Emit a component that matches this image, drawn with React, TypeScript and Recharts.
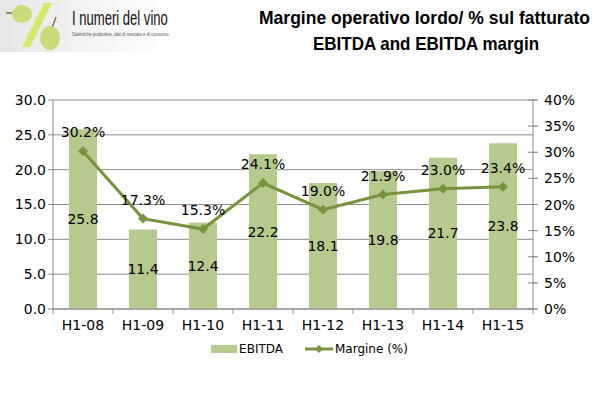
import React, { useLayoutEffect, useRef, useState } from 'react';
import {
  ComposedChart,
  Bar,
  Line,
  XAxis,
  YAxis,
  CartesianGrid,
  Legend,
  LabelList
} from 'recharts';

const periods = ['H1-08', 'H1-09', 'H1-10', 'H1-11', 'H1-12', 'H1-13', 'H1-14', 'H1-15'];
const ebitda = [25.8, 11.4, 12.4, 22.2, 18.1, 19.8, 21.7, 23.8];
const margin = [30.2, 17.3, 15.3, 24.1, 19.0, 21.9, 23.0, 23.4];
const leftTicks = [0, 5, 10, 15, 20, 25, 30];
const rightTicks = [0, 5, 10, 15, 20, 25, 30, 35, 40];

const data = periods.map((p, i) => ({ period: p, ebitda: ebitda[i], margin: margin[i] }));

const BAR = '#b6ca8e';
const LINE = '#77933c';
const AXIS = '#8c8c8c';
const FONT = 'DejaVu Sans, Verdana, sans-serif';
const SIZE = 14;

// squeezes a single line of text horizontally to a given pixel width
const FitText = ({ left, top, width, style, children }: any) => {
  const ref = useRef<HTMLSpanElement>(null);
  const [scale, setScale] = useState(0.8);
  useLayoutEffect(() => {
    if (ref.current) {
      const w = ref.current.offsetWidth;
      if (w > 0) setScale(width / w);
    }
  }, [width]);
  return (
    <span
      ref={ref}
      style={{
        position: 'absolute',
        left,
        top,
        whiteSpace: 'nowrap',
        transform: `scaleX(${scale})`,
        transformOrigin: 'left top',
        ...style
      }}
    >
      {children}
    </span>
  );
};

const Diamond = (props: any) => {
  const { cx, cy } = props;
  if (cx == null || cy == null) return null;
  return <polygon points={`${cx},${cy - 5} ${cx + 5},${cy} ${cx},${cy + 5} ${cx - 5},${cy}`} fill={LINE} />;
};

const XTick = ({ x, y, payload, index }: any) => (
  <g>
    <line x1={x + 30} y1={y - 8} x2={x + 30} y2={y - 3} stroke={AXIS} />
    {index === 0 && <line x1={x - 30} y1={y - 8} x2={x - 30} y2={y - 3} stroke={AXIS} />}
    <text x={x} y={y + 13} textAnchor="middle" fontSize={SIZE} fill="#000" fontFamily={FONT}>
      {payload.value}
    </text>
  </g>
);

const RightTick = ({ x, y, payload }: any) => (
  <g>
    <line x1={x - 12} y1={y} x2={x - 3} y2={y} stroke={AXIS} />
    <text x={x + 4} y={y + 5} textAnchor="start" fontSize={SIZE} fill="#000" fontFamily={FONT}>
      {`${payload.value}%`}
    </text>
  </g>
);

const LegendContent = () => (
  <div style={{ display: 'flex', justifyContent: 'center', alignItems: 'center', fontFamily: FONT, fontSize: 12, paddingLeft: 18 }}>
    <div style={{ width: 26, height: 8, background: BAR, marginRight: 2 }} />
    <span style={{ marginRight: 22 }}>EBITDA</span>
    <svg width={28} height={10} style={{ marginRight: 2 }}>
      <line x1={0} y1={5} x2={28} y2={5} stroke={LINE} strokeWidth={3} />
      <polygon points="14,1 18,5 14,9 10,5" fill={LINE} />
    </svg>
    <span>Margine (%)</span>
  </div>
);

const titleStyle = { fontFamily: 'Liberation Sans, Arial, sans-serif', fontWeight: 'bold', fontSize: 19, lineHeight: '22px', color: '#000' };
const logoStyle = { fontFamily: 'Liberation Sans, Arial, sans-serif', fontSize: 20, lineHeight: '22px', color: '#111' };

const Header = () => (
  <>
    <svg width={172} height={52} style={{ position: 'absolute', left: 0, top: 0 }}>
      <defs>
        <linearGradient id="logoBg" x1="0" y1="0" x2="1" y2="0">
          <stop offset="0%" stopColor="#e6e6e6" />
          <stop offset="60%" stopColor="#f6f6f6" />
          <stop offset="100%" stopColor="#ffffff" />
        </linearGradient>
      </defs>
      <rect x={0} y={0} width={172} height={52} fill="url(#logoBg)" />
      <polygon points="22,47 44,3 52,3 30,47" fill="#d6e86a" />
      <line x1={6} y1={13} x2={12} y2={13} stroke="#8a6d3b" strokeWidth={1.5} />
      <ellipse cx={22} cy={14} rx={10} ry={9} fill="#c8dd7a" />
      <line x1={52} y1={28} x2={56} y2={17} stroke="#8a6d3b" strokeWidth={1.5} />
      <ellipse cx={50} cy={38} rx={10} ry={12} fill="#c8dd7a" />
    </svg>
    <FitText left={72} top={7} width={96} style={logoStyle}>I numeri del vino</FitText>
    <FitText left={72} top={31} width={98} style={{ fontFamily: 'Liberation Sans, Arial, sans-serif', fontSize: 5, lineHeight: '6px', color: '#555' }}>
      Statistiche produttive, dati di mercato e di consumo.
    </FitText>
    <FitText left={259} top={7} width={331} style={titleStyle}>Margine operativo lordo/ % sul fatturato</FitText>
    <FitText left={313} top={33} width={226} style={titleStyle}>EBITDA and EBITDA margin</FitText>
  </>
);

const App: React.FC = () => {
  return (
    <div style={{ position: 'absolute', left: 0, top: 0, width: 600, height: 396, background: '#fff', overflow: 'hidden' }}>
      <Header />
      <ComposedChart
        width={600}
        height={396}
        data={data}
        margin={{ top: 100, right: 7, bottom: 0, left: 8 }}
        style={{ position: 'absolute', left: 0, top: 0 }}
      >
        <CartesianGrid yAxisId="left" vertical={false} stroke={AXIS} strokeWidth={1} />
        <XAxis
          dataKey="period"
          stroke={AXIS}
          tickLine={false}
          tick={<XTick />}
          height={35}
          interval={0}
        />
        <YAxis
          yAxisId="left"
          domain={[0, 30]}
          ticks={leftTicks}
          width={45}
          stroke={AXIS}
          tickSize={5}
          tick={{ fontSize: SIZE, fill: '#000', fontFamily: FONT }}
          tickFormatter={(v: number) => v.toFixed(1)}
        />
        <YAxis
          yAxisId="right"
          orientation="right"
          domain={[0, 40]}
          ticks={rightTicks}
          width={60}
          stroke={AXIS}
          tickSize={5}
          tickLine={{ stroke: AXIS }}
          tick={<RightTick />}
        />
        <Legend
          verticalAlign="bottom"
          height={52}
          content={<LegendContent />}
          wrapperStyle={{ top: 342 }}
        />
        <Bar yAxisId="left" dataKey="ebitda" name="EBITDA" fill={BAR} barSize={28} isAnimationActive={false}>
          <LabelList
            dataKey="ebitda"
            position="center"
            formatter={(v: any) => Number(v).toFixed(1)}
            style={{ fontSize: SIZE, fill: '#000', fontFamily: FONT }}
          />
        </Bar>
        <Line
          yAxisId="right"
          dataKey="margin"
          name="Margine (%)"
          stroke={LINE}
          strokeWidth={3}
          dot={<Diamond />}
          activeDot={false}
          isAnimationActive={false}
        >
          <LabelList
            dataKey="margin"
            position="top"
            offset={14}
            formatter={(v: any) => `${Number(v).toFixed(1)}%`}
            style={{ fontSize: SIZE, fill: '#000', fontFamily: FONT }}
          />
        </Line>
      </ComposedChart>
    </div>
  );
};

export default App;
